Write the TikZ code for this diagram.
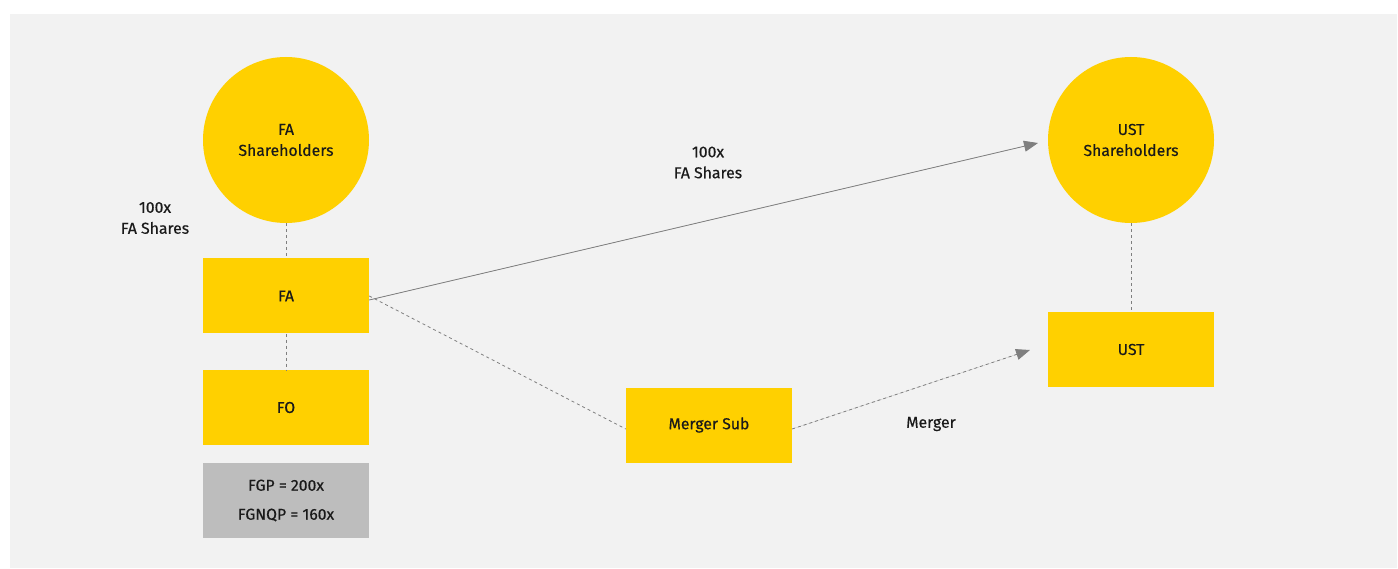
\documentclass[tikz,border=0pt]{standalone}
\usepackage{fontspec}
\setmainfont{Fira Sans}[FakeBold=0.4]
\usetikzlibrary{arrows.meta}
\definecolor{eyyellow}{HTML}{FFD000}
\definecolor{panel}{HTML}{F2F2F2}
\definecolor{greybox}{HTML}{BDBDBD}
\definecolor{linegrey}{HTML}{7F7F7F}
\definecolor{txt}{HTML}{1A1A1A}
\begin{document}
\begin{tikzpicture}[x=1pt,y=-1pt,
  every node/.style={font=\fontsize{15.8}{21}\selectfont, text=txt, align=center},
  ybox/.style={fill=eyyellow, minimum width=166pt, minimum height=75pt, inner sep=0pt},
  gbox/.style={fill=greybox, minimum width=166pt, minimum height=75pt, inner sep=0pt},
  ycirc/.style={circle, fill=eyyellow, minimum size=166pt, inner sep=0pt},
  dashline/.style={draw=linegrey, dashed, dash pattern=on 3pt off 3pt, line width=0.8pt},
  solidline/.style={draw=linegrey, line width=0.8pt},
  tip/.style={-{Triangle[length=14pt,width=11pt]}}
]
\useasboundingbox (0,0) rectangle (1398,569);
\fill[white] (0,0) rectangle (1398,569);
\fill[panel] (10,14) rectangle (1397,568);

\node[ycirc] (fash) at (286,140) {FA\\Shareholders};
\node[ycirc] (ustsh) at (1131,140) {UST\\Shareholders};
\node[ybox] (fa) at (286,296) {FA};
\node[ybox] (fo) at (286,407.5) {FO};
\node[gbox] (fg) at (286,500.5) {FGP = 200x\\[8pt]FGNQP = 160x};
\node[ybox] (ms) at (709,425) {Merger Sub};
\node[ybox] (ust) at (1131,349.5) {UST};

\node (l1) at (155,218) {100x\\FA Shares};
\node (l2) at (708,162.5) {100x\\FA Shares};
\node (l3) at (931,424) {Merger};

\coordinate (t1) at (1038,143);
\coordinate (t2) at (1030,350);

\draw[dashline] (fash.south) -- (fa.north);
\draw[dashline] (fa.south) -- (fo.north);
\draw[dashline] (ustsh.south) -- (ust.north);
\draw[solidline, tip, fill=linegrey] ([yshift=-4pt]fa.east) -- (t1);
\draw[dashline] (fa.east) -- ([yshift=-4pt]ms.west);
\draw[dashline, tip, fill=linegrey] ([yshift=-4pt]ms.east) -- (t2);
\end{tikzpicture}
\end{document}
